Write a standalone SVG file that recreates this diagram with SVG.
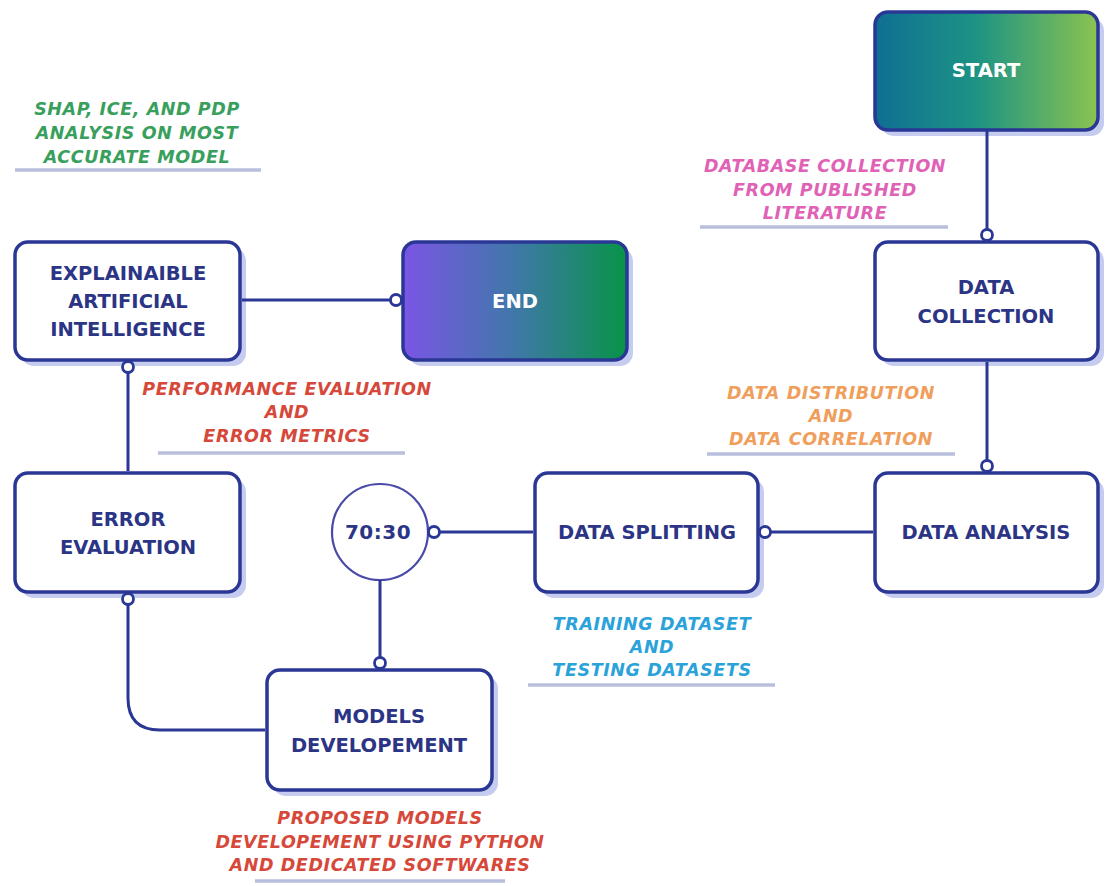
<svg xmlns="http://www.w3.org/2000/svg" width="1115" height="886" viewBox="0 0 1115 886">
<defs>
<linearGradient id="gStart" x1="0" y1="0" x2="1" y2="0">
<stop offset="0" stop-color="#0f6f93"/>
<stop offset="0.45" stop-color="#1c9384"/>
<stop offset="1" stop-color="#8bc350"/>
</linearGradient>
<linearGradient id="gEnd" x1="0" y1="0" x2="1" y2="0">
<stop offset="0" stop-color="#7b55e6"/>
<stop offset="0.5" stop-color="#3f78a8"/>
<stop offset="1" stop-color="#079447"/>
</linearGradient>
<marker id="dot" viewBox="0 0 16 16" refX="8" refY="8" markerWidth="16" markerHeight="16" markerUnits="userSpaceOnUse">
<circle cx="8" cy="8" r="5.5" fill="#ffffff" stroke="#2b3794" stroke-width="2.8"/>
</marker>
<style>
.shadow{fill:#c6ccf0}
.box{fill:#ffffff;stroke:#2b3794;stroke-width:3.5}
.grad{stroke:#2b3794;stroke-width:3.5}
.nt{font-family:"DejaVu Sans",sans-serif;font-weight:bold;font-size:19.5px;letter-spacing:0px;fill:#2c3585;text-anchor:middle}
.wt{fill:#ffffff}
.lab{font-family:"DejaVu Sans",sans-serif;font-weight:bold;font-style:italic;font-size:17.5px;letter-spacing:0.6px;text-anchor:middle}
.ul{stroke:#b8bfdc;stroke-width:3.5}
.con{fill:none;stroke:#2b3794;stroke-width:3;marker-end:url(#dot)}
</style>
</defs>
<rect width="1115" height="886" fill="#ffffff"/>

<g id="start">
<rect class="shadow" x="881" y="18" width="223" height="118" rx="13"/>
<rect class="grad" x="875" y="12" width="223" height="118" rx="13" fill="url(#gStart)"/>
<text class="nt wt" x="986" y="77">START</text>
</g>

<g id="data-collection">
<rect class="shadow" x="881" y="248" width="223" height="118" rx="13"/>
<rect class="box" x="875" y="242" width="223" height="118" rx="13"/>
<text class="nt" x="986" y="294">DATA</text>
<text class="nt" x="986" y="323">COLLECTION</text>
</g>

<g id="data-analysis">
<rect class="shadow" x="881" y="479" width="223" height="119" rx="13"/>
<rect class="box" x="875" y="473" width="223" height="119" rx="13"/>
<text class="nt" x="986" y="539">DATA ANALYSIS</text>
</g>

<g id="data-splitting">
<rect class="shadow" x="541" y="479" width="223" height="119" rx="13"/>
<rect class="box" x="535" y="473" width="223" height="119" rx="13"/>
<text class="nt" x="647" y="539">DATA SPLITTING</text>
</g>

<g id="ratio">
<circle cx="380" cy="532" r="48" fill="#ffffff" stroke="#4a4aa8" stroke-width="2.2"/>
<text class="nt" x="378" y="539" style="font-size:20px;letter-spacing:0.5px">70:30</text>
</g>

<g id="models-development">
<rect class="shadow" x="273" y="676" width="225" height="120" rx="13"/>
<rect class="box" x="267" y="670" width="225" height="120" rx="13"/>
<text class="nt" x="379" y="723">MODELS</text>
<text class="nt" x="379" y="752">DEVELOPEMENT</text>
</g>

<g id="error-evaluation">
<rect class="shadow" x="21" y="479" width="225" height="119" rx="13"/>
<rect class="box" x="15" y="473" width="225" height="119" rx="13"/>
<text class="nt" x="128" y="526">ERROR</text>
<text class="nt" x="128" y="554">EVALUATION</text>
</g>

<g id="xai">
<rect class="shadow" x="21" y="248" width="225" height="118" rx="13"/>
<rect class="box" x="15" y="242" width="225" height="118" rx="13"/>
<text class="nt" x="128" y="280">EXPLAINAIBLE</text>
<text class="nt" x="128" y="308">ARTIFICIAL</text>
<text class="nt" x="128" y="336">INTELLIGENCE</text>
</g>

<g id="end">
<rect class="shadow" x="409" y="248" width="224" height="118" rx="13"/>
<rect class="grad" x="403" y="242" width="224" height="118" rx="13" fill="url(#gEnd)"/>
<text class="nt wt" x="515" y="308">END</text>
</g>

<g id="connectors">
<path class="con" d="M987,131 V235"/>
<path class="con" d="M987,362 V466"/>
<path class="con" d="M873,532 H765"/>
<path class="con" d="M533,532 H434"/>
<path class="con" d="M380,580 V663"/>
<path class="con" d="M265,730 H160 Q128,730 128,698 V599"/>
<path class="con" d="M128,471 V367"/>
<path class="con" d="M242,300 H396"/>
</g>

<g id="label-shap">
<text class="lab" fill="#38a05c" x="137" y="115">SHAP, ICE, AND PDP</text>
<text class="lab" fill="#38a05c" x="137" y="139">ANALYSIS ON MOST</text>
<text class="lab" fill="#38a05c" x="137" y="163">ACCURATE MODEL</text>
<line class="ul" x1="15" y1="170" x2="261" y2="170"/>
</g>

<g id="label-database">
<text class="lab" fill="#df62b6" x="825" y="172">DATABASE COLLECTION</text>
<text class="lab" fill="#df62b6" x="825" y="196">FROM PUBLISHED</text>
<text class="lab" fill="#df62b6" x="825" y="219">LITERATURE</text>
<line class="ul" x1="700" y1="227" x2="948" y2="227"/>
</g>

<g id="label-performance">
<text class="lab" fill="#d6483a" x="287" y="395">PERFORMANCE EVALUATION</text>
<text class="lab" fill="#d6483a" x="287" y="418">AND</text>
<text class="lab" fill="#d6483a" x="287" y="442">ERROR METRICS</text>
<line class="ul" x1="158" y1="453" x2="405" y2="453"/>
</g>

<g id="label-distribution">
<text class="lab" fill="#f09e5c" x="831" y="399">DATA DISTRIBUTION</text>
<text class="lab" fill="#f09e5c" x="831" y="422">AND</text>
<text class="lab" fill="#f09e5c" x="831" y="445">DATA CORRELATION</text>
<line class="ul" x1="707" y1="454" x2="955" y2="454"/>
</g>

<g id="label-training">
<text class="lab" fill="#2aa2da" x="652" y="630">TRAINING DATASET</text>
<text class="lab" fill="#2aa2da" x="652" y="653">AND</text>
<text class="lab" fill="#2aa2da" x="652" y="676">TESTING DATASETS</text>
<line class="ul" x1="528" y1="685" x2="775" y2="685"/>
</g>

<g id="label-proposed">
<text class="lab" fill="#d6483a" x="380" y="824">PROPOSED MODELS</text>
<text class="lab" fill="#d6483a" x="380" y="848">DEVELOPEMENT USING PYTHON</text>
<text class="lab" fill="#d6483a" x="380" y="871">AND DEDICATED SOFTWARES</text>
<line class="ul" x1="255" y1="881" x2="505" y2="881"/>
</g>
</svg>
